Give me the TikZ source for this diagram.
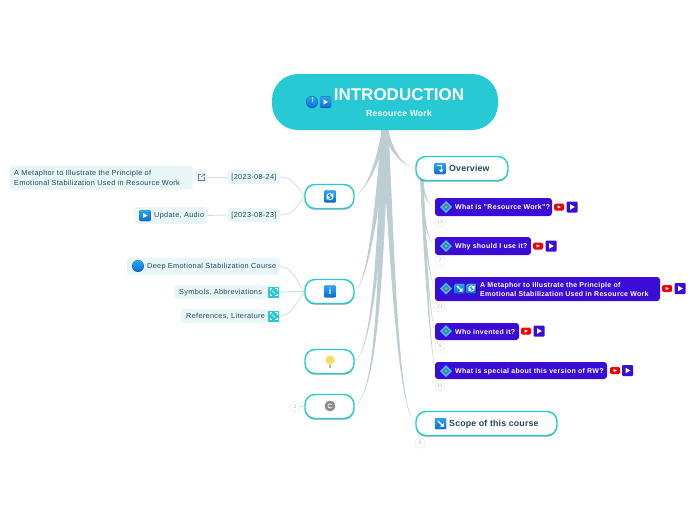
\documentclass[tikz,border=0pt]{standalone}
\usepackage{fontspec}
\setmainfont{Liberation Sans}
\usetikzlibrary{calc,shadows,backgrounds}
\definecolor{rootcol}{HTML}{26C9D4}
\definecolor{branchcol}{HTML}{BCCED3}
\definecolor{leafcol}{HTML}{E8F6F8}
\definecolor{inkcol}{HTML}{1F4757}
\definecolor{purplecol}{HTML}{3A0CD6}
\definecolor{bluetop}{HTML}{2BA6F5}
\definecolor{bluebot}{HTML}{0A6CD8}
\definecolor{gemout}{HTML}{45B8E6}
\definecolor{gemin}{HTML}{1E86DC}
\tikzset{
  topic/.style = {draw=rootcol, line width=1.4pt, fill=white, rounded corners=10pt, inner sep=0pt,
    drop shadow={shadow xshift=0pt, shadow yshift=-1.2pt, fill=black, opacity=.4}},
  question/.style = {fill=purplecol, rounded corners=3pt, inner sep=0pt},
  leaf/.style = {fill=leafcol, rounded corners=3pt, inner sep=0pt},
  toptext/.style = {font=\bfseries\fontsize{8.8}{10}\addfontfeature{LetterSpace=2}\selectfont, text=inkcol, inner sep=0pt, anchor=west},
  qtext/.style = {font=\bfseries\fontsize{7}{9}\addfontfeature{LetterSpace=4}\selectfont, text=white, inner sep=0pt, anchor=west, align=left},
  leaftext/.style = {font=\fontsize{7.3}{10}\addfontfeature{LetterSpace=4.5}\selectfont, text=inkcol, inner sep=0pt, align=left},
  counter/.style = {circle, draw=black!12, fill=white, minimum size=10.5pt, inner sep=0pt,
    font=\fontsize{5}{5}\selectfont, text=black!30},
  branch/.style = {fill=branchcol, draw=none},
  twig/.style = {draw=branchcol!70, line width=.8pt},
}
% tapered connector: from, to, half width, two controls
\newcommand{\taper}[5]{\fill[branch] ($(#1)+(-#3,0)$) .. controls ($#4+(-#3*.7,0)$) and ($#5+(-#3*.08,0)$) .. (#2) .. controls ($#5+(#3*.08,0)$) and ($#4+(#3*.7,0)$) .. ($(#1)+(#3,0)$) -- cycle;}
% icons: x, y
\newcommand{\bluebox}[3]{\fill[top color=bluetop, bottom color=bluebot, rounded corners=1pt] (#1-#3,#2-#3) rectangle (#1+#3,#2+#3);}
\newcommand{\playbox}[2]{\bluebox{#1}{#2}{5.5}\fill[white] (#1-2,#2-2.5) -- (#1+2.5,#2) -- (#1-2,#2+2.5) -- cycle;}
\newcommand{\ballicon}[3]{\fill[top color=bluetop, bottom color=bluebot] (#1,#2) circle (#3);}
\newcommand{\syncicon}[3]{\bluebox{#1}{#2}{#3}
  \draw[white, line width=.9pt] (#1-#3*.55,#2) arc (180:330:#3*.55);
  \draw[white, line width=.9pt] (#1+#3*.55,#2) arc (0:150:#3*.55);
  \fill[white] (#1+#3*.6,#2-#3*.6) -- (#1+#3*.6,#2+#3*.1) -- (#1-#3*.05,#2-#3*.1) -- cycle;
  \fill[white] (#1-#3*.6,#2+#3*.6) -- (#1-#3*.6,#2-#3*.1) -- (#1+#3*.05,#2+#3*.1) -- cycle;}
\newcommand{\slashicon}[3]{\bluebox{#1}{#2}{#3}
  \draw[white, line width=1.1pt] (#1-#3*.5,#2-#3*.5) -- (#1+#3*.4,#2+#3*.4);
  \fill[white] (#1+#3*.6,#2+#3*.6) -- (#1+#3*.6,#2-#3*.1) -- (#1-#3*.1,#2+#3*.6) -- cycle;}
\newcommand{\turnicon}[2]{\bluebox{#1}{#2}{5.5}
  \draw[white, line width=1.1pt] (#1-3,#2-3) -- (#1+1.2,#2-3) -- (#1+1.2,#2+1.5);
  \fill[white] (#1-1.3,#2+1) -- (#1+3.7,#2+1) -- (#1+1.2,#2+4) -- cycle;}
\newcommand{\gemicon}[2]{\fill[gemout] (#1-6,#2) -- (#1,#2-6) -- (#1+6,#2) -- (#1,#2+6) -- cycle;
  \fill[gemin] (#1-3.5,#2) -- (#1,#2-3.5) -- (#1+3.5,#2) -- (#1,#2+3.5) -- cycle;
  \fill[orange!80!yellow] (#1,#2) circle (1.3);}
\newcommand{\tubeicon}[2]{\fill[red!95!black, rounded corners=1.5pt] (#1-5,#2-3.5) rectangle (#1+5,#2+3.5);
  \fill[white] (#1-1.3,#2-1.6) -- (#1+1.8,#2) -- (#1-1.3,#2+1.6) -- cycle;}
\newcommand{\purpleplay}[2]{\fill[purplecol, rounded corners=1pt] (#1-5.5,#2-5.5) rectangle (#1+5.5,#2+5.5);
  \fill[white] (#1-2,#2-2.8) -- (#1+2.8,#2) -- (#1-2,#2+2.8) -- cycle;}
\newcommand{\cornericon}[2]{\fill[rootcol] (#1-5.5,#2-5.5) rectangle (#1+5.5,#2+5.5);
  \draw[white, line width=.5pt] (#1-3.5,#2-1.5) |- (#1-1.5,#2-3.5) (#1+1.5,#2-3.5) -| (#1+3.5,#2-1.5)
    (#1-3.5,#2+1.5) |- (#1-1.5,#2+3.5) (#1+1.5,#2+3.5) -| (#1+3.5,#2+1.5);
  \draw[white, line width=.5pt] (#1-1.5,#2-1.5) -- (#1+1.5,#2+1.5);}
\begin{document}
\begin{tikzpicture}[x=1pt, y=-1pt]
\useasboundingbox (0,0) rectangle (696,520);
% boxes
\node[minimum width=226pt, minimum height=56pt, rounded corners=26pt, fill=rootcol] (root) at (385,102) {};
\coordinate (stem) at (385,129);
\node[topic, minimum width=92pt, minimum height=24pt] (overview) at (462,168.5) {};
\node[topic, minimum width=141pt, minimum height=24pt] (scope) at (486.5,423.5) {};
\node[topic, minimum width=49pt, minimum height=24pt] (sync) at (329.5,196.5) {};
\node[topic, minimum width=49pt, minimum height=24pt] (info) at (329.5,291.5) {};
\node[topic, minimum width=49pt, minimum height=24pt] (bulb) at (329.5,361.5) {};
\node[topic, minimum width=49pt, minimum height=24pt] (copy) at (329.5,406.5) {};
\node[question, minimum width=117pt, minimum height=18pt] (q1) at (493.5,207) {};
\node[question, minimum width=96pt, minimum height=18pt] (q2) at (483,246) {};
\node[question, minimum width=225pt, minimum height=24pt] (q3) at (547.5,289) {};
\node[question, minimum width=84pt, minimum height=17pt] (q4) at (477,331.5) {};
\node[question, minimum width=172pt, minimum height=17pt] (q5) at (521,370.5) {};
\node[leaf, minimum width=52pt, minimum height=14pt] (date1) at (254,177) {};
\node[leaf, minimum width=52pt, minimum height=14pt] (date2) at (254,215) {};
\node[leaf, minimum width=12pt, minimum height=12pt] (link) at (201,177) {};
\node[leaf, minimum width=183pt, minimum height=24pt] (meta) at (101,177.5) {};
\node[leaf, minimum width=72pt, minimum height=17pt] (audio) at (171,215.5) {};
\node[leaf, minimum width=153pt, minimum height=17pt] (deep) at (203.5,266.5) {};
\node[leaf, minimum width=93pt, minimum height=14pt] (symbols) at (220.5,292) {};
\node[leaf, minimum width=86pt, minimum height=14pt] (refs) at (224,316) {};
\node[minimum size=11pt, inner sep=0pt] (symicon) at (273.5,292) {};
\node[minimum size=11pt, inner sep=0pt] (reficon) at (273.5,316) {};
% counters
\node[counter] (c1) at (440,222) {13};
\node[counter] (c2) at (440,261) {7};
\node[counter] (c3) at (440,307) {21};
\node[counter] (c4) at (440,346) {6};
\node[counter] (c5) at (440,385.5) {11};
\node[counter] (c6) at (420,443) {8};
\node[counter] (c7) at (295,406.5) {2};
% connectors
\begin{pgfonlayer}{background}
\taper{stem}{overview.west}{3}{(391,152)}{(403,166)}
\taper{stem}{scope.west}{3.5}{(393,270)}{(398,408)}
\taper{stem}{sync.east}{3}{(379,160)}{(367,190)}
\taper{stem}{info.east}{3.5}{(378,205)}{(368,282)}
\taper{stem}{bulb.east}{3.5}{(380,250)}{(372,350)}
\taper{stem}{copy.east}{3.5}{(381,290)}{(376,392)}
\coordinate (twigs) at (422,180);
\taper{twigs}{q1.west}{1.5}{(423,194)}{(428,205)}
\taper{twigs}{q2.west}{1.5}{(423,225)}{(429,243)}
\taper{twigs}{q3.west}{1.5}{(424,250)}{(431,280)}
\taper{twigs}{q4.west}{1.5}{(425,270)}{(432,322)}
\taper{twigs}{q5.west}{1.5}{(426,300)}{(433,361)}
\draw[twig] (sync.west) .. controls (296,185) and (292,177) .. (date1.east);
\draw[twig] (sync.west) .. controls (296,208) and (292,215) .. (date2.east);
\draw[twig] (date1.west) -- (link.east);
\draw[twig] (date2.west) -- (audio.east);
\draw[twig] (info.west) .. controls (296,280) and (292,267) .. (deep.east);
\draw[twig, line width=1.1pt] (info.west) -- (symicon.east);
\draw[twig] (info.west) .. controls (296,303) and (292,316) .. (reficon.east);
\draw[twig] (copy.west) -- (c7.east);
\end{pgfonlayer}
% texts
\node[font=\bfseries\fontsize{17}{20}\selectfont, text=white, inner sep=0pt] (title) at (399,95) {INTRODUCTION};
\node[font=\bfseries\fontsize{8.6}{9}\addfontfeature{LetterSpace=3}\selectfont, text=white, inner sep=0pt] (subtitle) at (399,113.5) {Resource Work};
\node[toptext] (overviewtext) at (449,168.5) {Overview};
\node[toptext] (scopetext) at (449,424) {Scope of this course};
\node[qtext] (q1text) at (455,207) {What is "Resource Work"?};
\node[qtext] (q2text) at (455,246.5) {Why should I use it?};
\node[qtext] (q3text) at (480,289) {A Metaphor to Illustrate the Principle of\\Emotional Stabilization Used in Resource Work};
\node[qtext] (q4text) at (455,331.5) {Who invented it?};
\node[qtext] (q5text) at (455,371.5) {What is special about this version of RW?};
\node[leaftext] (date1text) at (254,177.5) {[2023-08-24]};
\node[leaftext] (date2text) at (254,215.5) {[2023-08-23]};
\node[leaftext, anchor=west] (metatext) at (14,177.5) {A Metaphor to Illustrate the Principle of\\Emotional Stabilization Used in Resource Work};
\node[leaftext, anchor=west] (audiotext) at (154,215.5) {Update, Audio};
\node[leaftext, anchor=west] (deeptext) at (147,266.5) {Deep Emotional Stabilization Course};
\node[leaftext, anchor=west] (symbolstext) at (179,292.5) {Symbols, Abbreviations};
\node[leaftext, anchor=west] (refstext) at (186,316.5) {References, Literature};
% icons
\ballicon{312}{102}{5.8}
\draw[white!60!bluetop, line width=.4pt] (312,102) -- (312,97);
\playbox{325.5}{102}
\turnicon{440}{168.5}
\slashicon{440.5}{423.5}{5.5}
\syncicon{330}{196.5}{5.8}
\bluebox{330}{291.5}{5.8}
\node[font=\bfseries\fontsize{9}{9}\selectfont, text=white, inner sep=0pt] (infoi) at (330,291.5) {i};
\fill[yellow!60!orange!60] (330,360) circle (4.6);
\fill[yellow!60!orange!50] (327.6,362.5) -- (332.4,362.5) -- (331.3,365) -- (328.7,365) -- cycle;
\fill[black!30] (328.8,365) rectangle (331.2,367.5);
\fill[black!45] (330,406) circle (5.4);
\draw[white, line width=.7pt] (331.6,404.6) arc (-40:-320:2.1);
\gemicon{446}{207}
\gemicon{446}{246}
\gemicon{446}{288.5}
\slashicon{459.5}{288.5}{5}
\syncicon{471.5}{288.5}{5}
\gemicon{446}{331}
\gemicon{446}{371}
\tubeicon{559}{207}\purpleplay{572}{207}
\tubeicon{538}{246}\purpleplay{551}{246}
\tubeicon{667}{288.5}\purpleplay{680}{288.5}
\tubeicon{526}{331}\purpleplay{539}{331}
\tubeicon{615}{370.5}\purpleplay{627.5}{370.5}
\playbox{145}{215.5}
\ballicon{138}{266}{5.8}
\draw[inkcol!70, line width=.5pt] (198,174.5) rectangle (204,180);
\fill[leafcol] (201,173.5) rectangle (205,177);
\draw[inkcol!70, line width=.5pt] (201,177) -- (204.5,174) (202.5,174) -- (204.5,174) -- (204.5,176);
\cornericon{273.5}{292}
\cornericon{273.5}{316}
\end{tikzpicture}
\end{document}
